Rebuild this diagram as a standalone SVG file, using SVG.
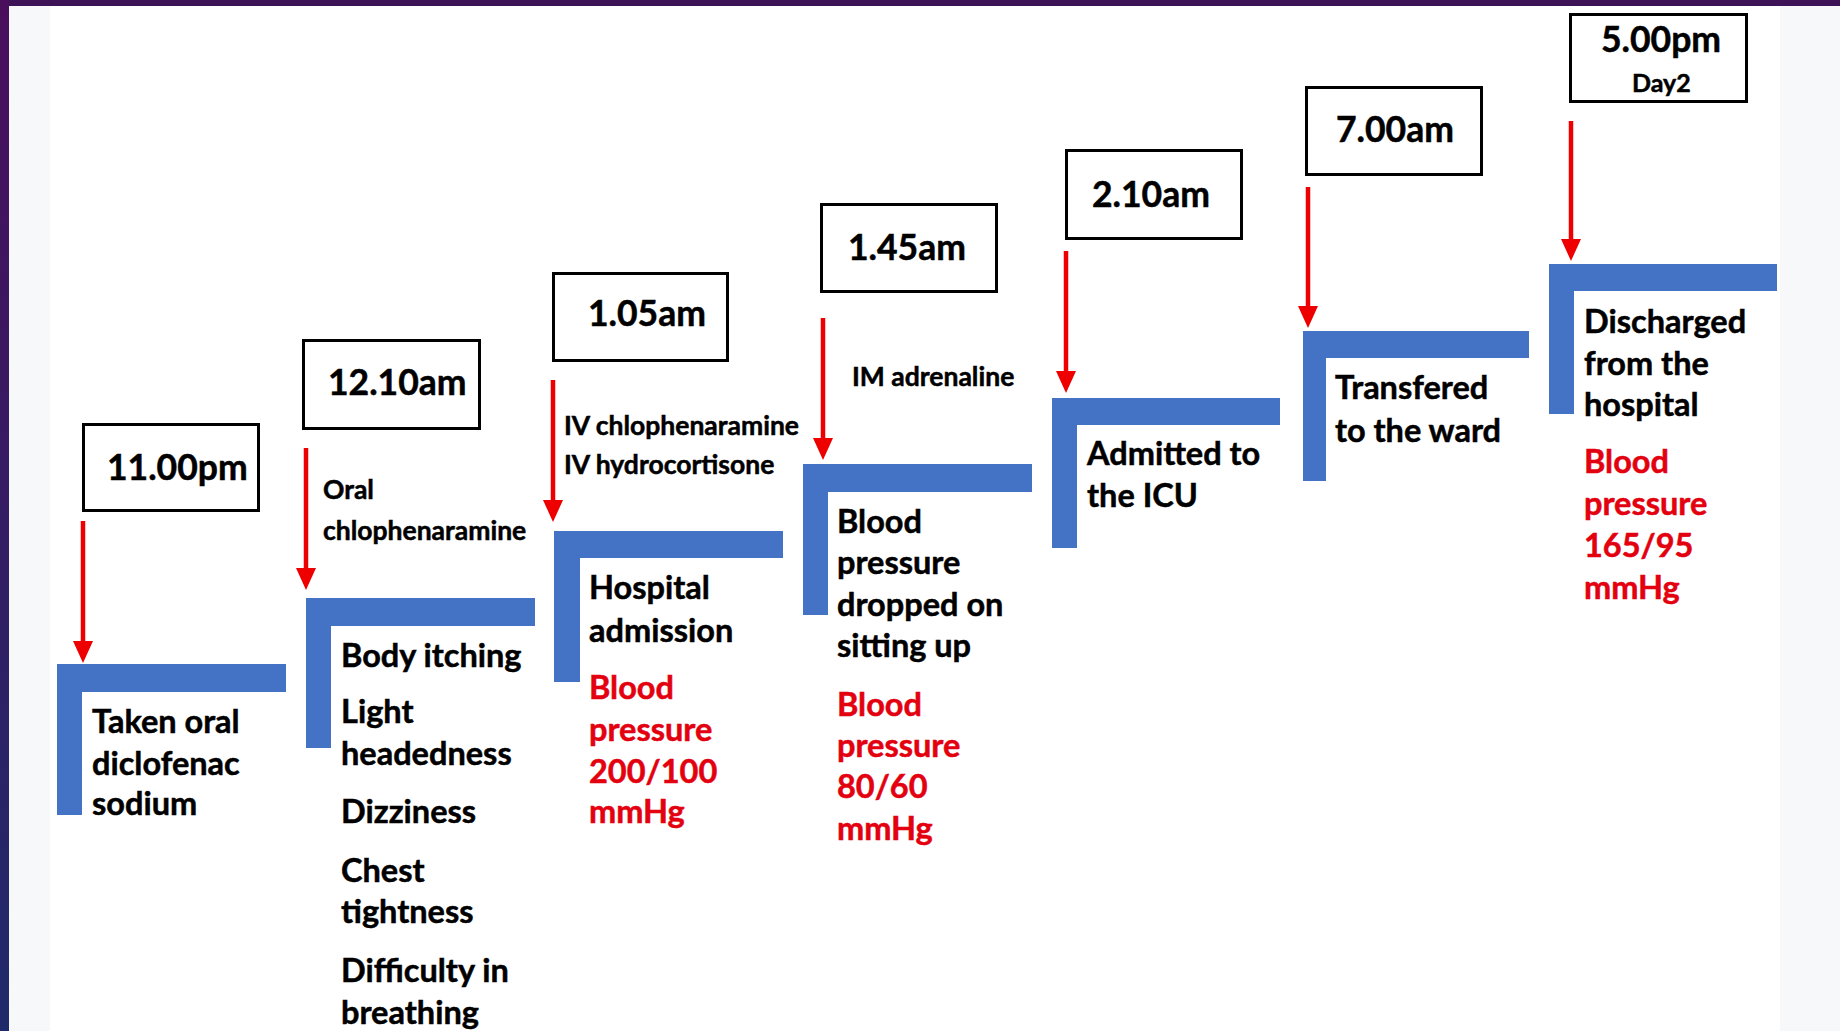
<svg xmlns="http://www.w3.org/2000/svg" width="1840" height="1031" viewBox="0 0 1840 1031">
<defs>
<linearGradient id="edge" x1="0" y1="0" x2="0" y2="1">
<stop offset="0" stop-color="#4a0f5c"/>
<stop offset="1" stop-color="#1f2a6b"/>
</linearGradient>
<marker id="ah" markerUnits="userSpaceOnUse" markerWidth="22" markerHeight="20" refX="0" refY="10" orient="auto">
<path d="M0,0 L22,10 L0,20 Z" fill="#ee0000"/>
</marker>
<style>
.box{fill:#fff;stroke:#000;stroke-width:3}
.bar{fill:#4472c4}
.arr{stroke:#ee0000;stroke-width:4.5;fill:none}
text{font-family:Lato,"Liberation Sans",sans-serif;font-weight:bold;fill:#000;stroke:#000;stroke-width:0.5}
.tm{font-size:35.5px}
.tx{font-size:32.5px}
.sm{font-size:26.5px}
.dy{font-size:25px}
.red{fill:#e3000f;stroke:#e3000f}
</style>
</defs>
<rect x="0" y="0" width="1840" height="1031" fill="#f7f8fa"/>
<rect x="50" y="6" width="1730" height="1025" fill="#ffffff"/>
<rect x="0" y="0" width="1840" height="6" fill="#3e1257"/>
<rect x="0" y="0" width="9" height="1031" fill="url(#edge)"/>

<g id="connectors">
<line class="arr" x1="83" y1="521" x2="83" y2="641" marker-end="url(#ah)"/>
<line class="arr" x1="306" y1="448" x2="306" y2="568" marker-end="url(#ah)"/>
<line class="arr" x1="553" y1="380" x2="553" y2="500" marker-end="url(#ah)"/>
<line class="arr" x1="823" y1="318" x2="823" y2="438" marker-end="url(#ah)"/>
<line class="arr" x1="1066" y1="251" x2="1066" y2="371" marker-end="url(#ah)"/>
<line class="arr" x1="1308" y1="187" x2="1308" y2="306" marker-end="url(#ah)"/>
<line class="arr" x1="1571" y1="121" x2="1571" y2="239" marker-end="url(#ah)"/>
</g>

<g id="time1"><rect class="box" x="83.5" y="424.5" width="175" height="86"/><text class="tm" x="107" y="480">11.00pm</text></g>
<g id="time2"><rect class="box" x="303.5" y="340.5" width="176" height="88"/><text class="tm" x="328" y="395">12.10am</text></g>
<g id="time3"><rect class="box" x="553.5" y="273.5" width="174" height="87"/><text class="tm" x="588" y="326">1.05am</text></g>
<g id="time4"><rect class="box" x="821.5" y="204.5" width="175" height="87"/><text class="tm" x="848" y="260">1.45am</text></g>
<g id="time5"><rect class="box" x="1066.5" y="150.5" width="175" height="88"/><text class="tm" x="1092" y="207">2.10am</text></g>
<g id="time6"><rect class="box" x="1306.5" y="87.5" width="175" height="87"/><text class="tm" x="1336" y="142">7.00am</text></g>
<g id="time7"><rect class="box" x="1570.5" y="14.5" width="176" height="87"/><text class="tm" x="1601" y="52">5.00pm</text><text class="dy" x="1632" y="92">Day2</text></g>

<g id="label-oral"><text class="sm" x="323" y="499">Oral</text><text class="sm" x="323" y="540">chlophenaramine</text></g>
<g id="label-iv"><text class="sm" x="564" y="435">IV chlophenaramine</text><text class="sm" x="564" y="474">IV hydrocortisone</text></g>
<g id="label-im"><text class="sm" x="852" y="386">IM adrenaline</text></g>

<g id="step1">
<path class="bar" d="M57,664 H286 V692 H82 V815 H57 Z"/>
<text class="tx" x="92" y="733">Taken oral</text>
<text class="tx" x="92" y="775">diclofenac</text>
<text class="tx" x="92" y="815">sodium</text>
</g>
<g id="step2">
<path class="bar" d="M306,598 H535 V626 H331 V748 H306 Z"/>
<text class="tx" x="341" y="667">Body itching</text>
<text class="tx" x="341" y="723">Light</text>
<text class="tx" x="341" y="765">headedness</text>
<text class="tx" x="341" y="823">Dizziness</text>
<text class="tx" x="341" y="882">Chest</text>
<text class="tx" x="341" y="923">tightness</text>
<text class="tx" x="341" y="982">Difficulty in</text>
<text class="tx" x="341" y="1024">breathing</text>
</g>
<g id="step3">
<path class="bar" d="M554,531 H783 V558 H580 V682 H554 Z"/>
<text class="tx" x="589" y="599">Hospital</text>
<text class="tx" x="589" y="642">admission</text>
<text class="tx red" x="589" y="699">Blood</text>
<text class="tx red" x="589" y="741">pressure</text>
<text class="tx red" x="589" y="783">200/100</text>
<text class="tx red" x="589" y="823">mmHg</text>
</g>
<g id="step4">
<path class="bar" d="M803,464 H1032 V492 H828 V615 H803 Z"/>
<text class="tx" x="837" y="533">Blood</text>
<text class="tx" x="837" y="574">pressure</text>
<text class="tx" x="837" y="616">dropped on</text>
<text class="tx" x="837" y="657">sitting up</text>
<text class="tx red" x="837" y="716">Blood</text>
<text class="tx red" x="837" y="757">pressure</text>
<text class="tx red" x="837" y="798">80/60</text>
<text class="tx red" x="837" y="840">mmHg</text>
</g>
<g id="step5">
<path class="bar" d="M1052,398 H1280 V425 H1077 V548 H1052 Z"/>
<text class="tx" x="1087" y="465">Admitted to</text>
<text class="tx" x="1087" y="507">the ICU</text>
</g>
<g id="step6">
<path class="bar" d="M1303,331 H1529 V358 H1326 V481 H1303 Z"/>
<text class="tx" x="1335" y="399">Transfered</text>
<text class="tx" x="1335" y="442">to the ward</text>
</g>
<g id="step7">
<path class="bar" d="M1549,264 H1777 V291 H1574 V414 H1549 Z"/>
<text class="tx" x="1584" y="333">Discharged</text>
<text class="tx" x="1584" y="375">from the</text>
<text class="tx" x="1584" y="416">hospital</text>
<text class="tx red" x="1584" y="473">Blood</text>
<text class="tx red" x="1584" y="515">pressure</text>
<text class="tx red" x="1584" y="557">165/95</text>
<text class="tx red" x="1584" y="599">mmHg</text>
</g>
</svg>
